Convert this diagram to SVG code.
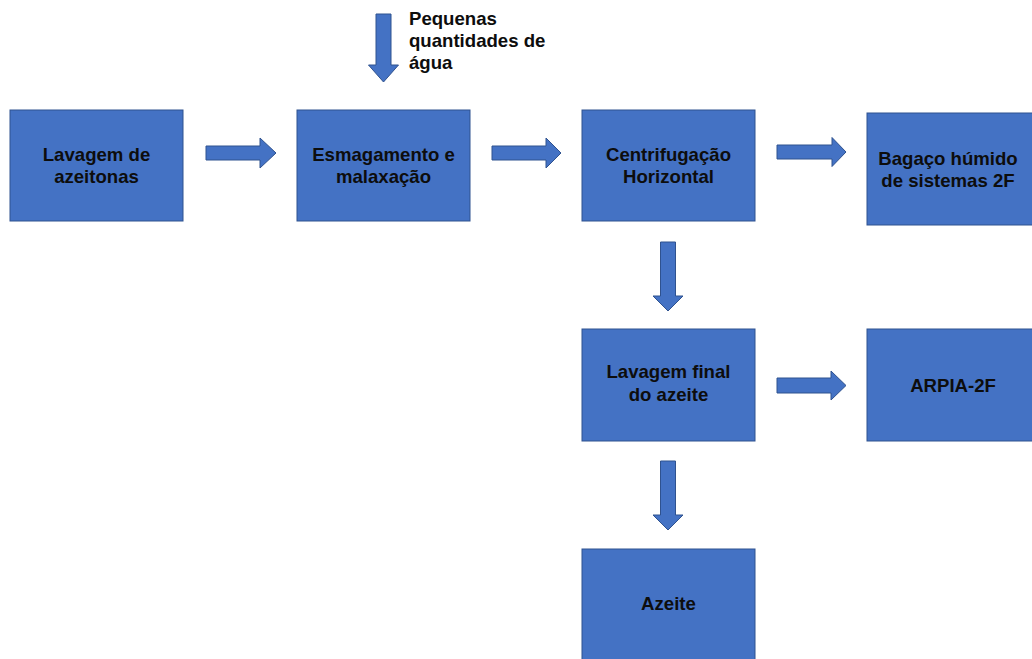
<svg xmlns="http://www.w3.org/2000/svg" width="1032" height="659" viewBox="0 0 1032 659">
<style>
.box{fill:#4472C4;stroke:#2F528F;stroke-width:1}
.arr{fill:#4472C4;stroke:#2F528F;stroke-width:1}
.t{font-family:"Liberation Sans",Arial,sans-serif;font-weight:bold;font-size:18.6px;fill:#0d0d0d;text-anchor:middle}
.lbl{font-family:"Liberation Sans",Arial,sans-serif;font-weight:bold;font-size:18.6px;fill:#0d0d0d}
</style>
<rect width="1032" height="659" fill="#ffffff"/>
<g id="connectors">
<polygon class="arr" points="206,146 260,146 260,138 276,153 260,168 260,160 206,160"/>
<polygon class="arr" points="492,146 546,146 546,138 561,153 546,168 546,160 492,160"/>
<polygon class="arr" points="777,145 832,145 832,137.5 846,152 832,166.5 832,159 777,159"/>
<polygon class="arr" points="777,378 831,378 831,371 846,385.5 831,400 831,393 777,393"/>
<polygon class="arr" points="660.5,242 675.5,242 675.5,296 683,296 668,311 653,296 660.5,296"/>
<polygon class="arr" points="660.5,461 675.5,461 675.5,515 683,515 668,530 653,515 660.5,515"/>
<polygon class="arr" points="376,14 391,14 391,65 398.5,65 383.5,82 368.5,65 376,65"/>
</g>
<g id="label-agua">
<text class="lbl" x="409" y="25">Pequenas</text>
<text class="lbl" x="409" y="47">quantidades de</text>
<text class="lbl" x="409" y="69">água</text>
</g>
<g id="lavagem">
<rect class="box" x="10" y="110" width="173" height="111"/>
<text class="t" x="96.5" y="161">Lavagem de</text>
<text class="t" x="96.5" y="183">azeitonas</text>
</g>
<g id="esmagamento">
<rect class="box" x="297" y="110" width="173" height="111"/>
<text class="t" x="383.5" y="161">Esmagamento e</text>
<text class="t" x="383.5" y="183">malaxação</text>
</g>
<g id="centrifugacao">
<rect class="box" x="582" y="110" width="173" height="111"/>
<text class="t" x="668.5" y="161">Centrifugação</text>
<text class="t" x="668.5" y="183">Horizontal</text>
</g>
<g id="bagaco">
<rect class="box" x="867" y="113" width="173" height="112"/>
<text class="t" x="948" y="165">Bagaço húmido</text>
<text class="t" x="948" y="187">de sistemas 2F</text>
</g>
<g id="lavagem-final">
<rect class="box" x="582" y="329" width="173" height="112"/>
<text class="t" x="668.5" y="378">Lavagem final</text>
<text class="t" x="668.5" y="401">do azeite</text>
</g>
<g id="arpia">
<rect class="box" x="867" y="329" width="173" height="112"/>
<text class="t" x="953" y="392">ARPIA-2F</text>
</g>
<g id="azeite">
<rect class="box" x="582" y="549" width="173" height="120"/>
<text class="t" x="668.5" y="610">Azeite</text>
</g>
</svg>
